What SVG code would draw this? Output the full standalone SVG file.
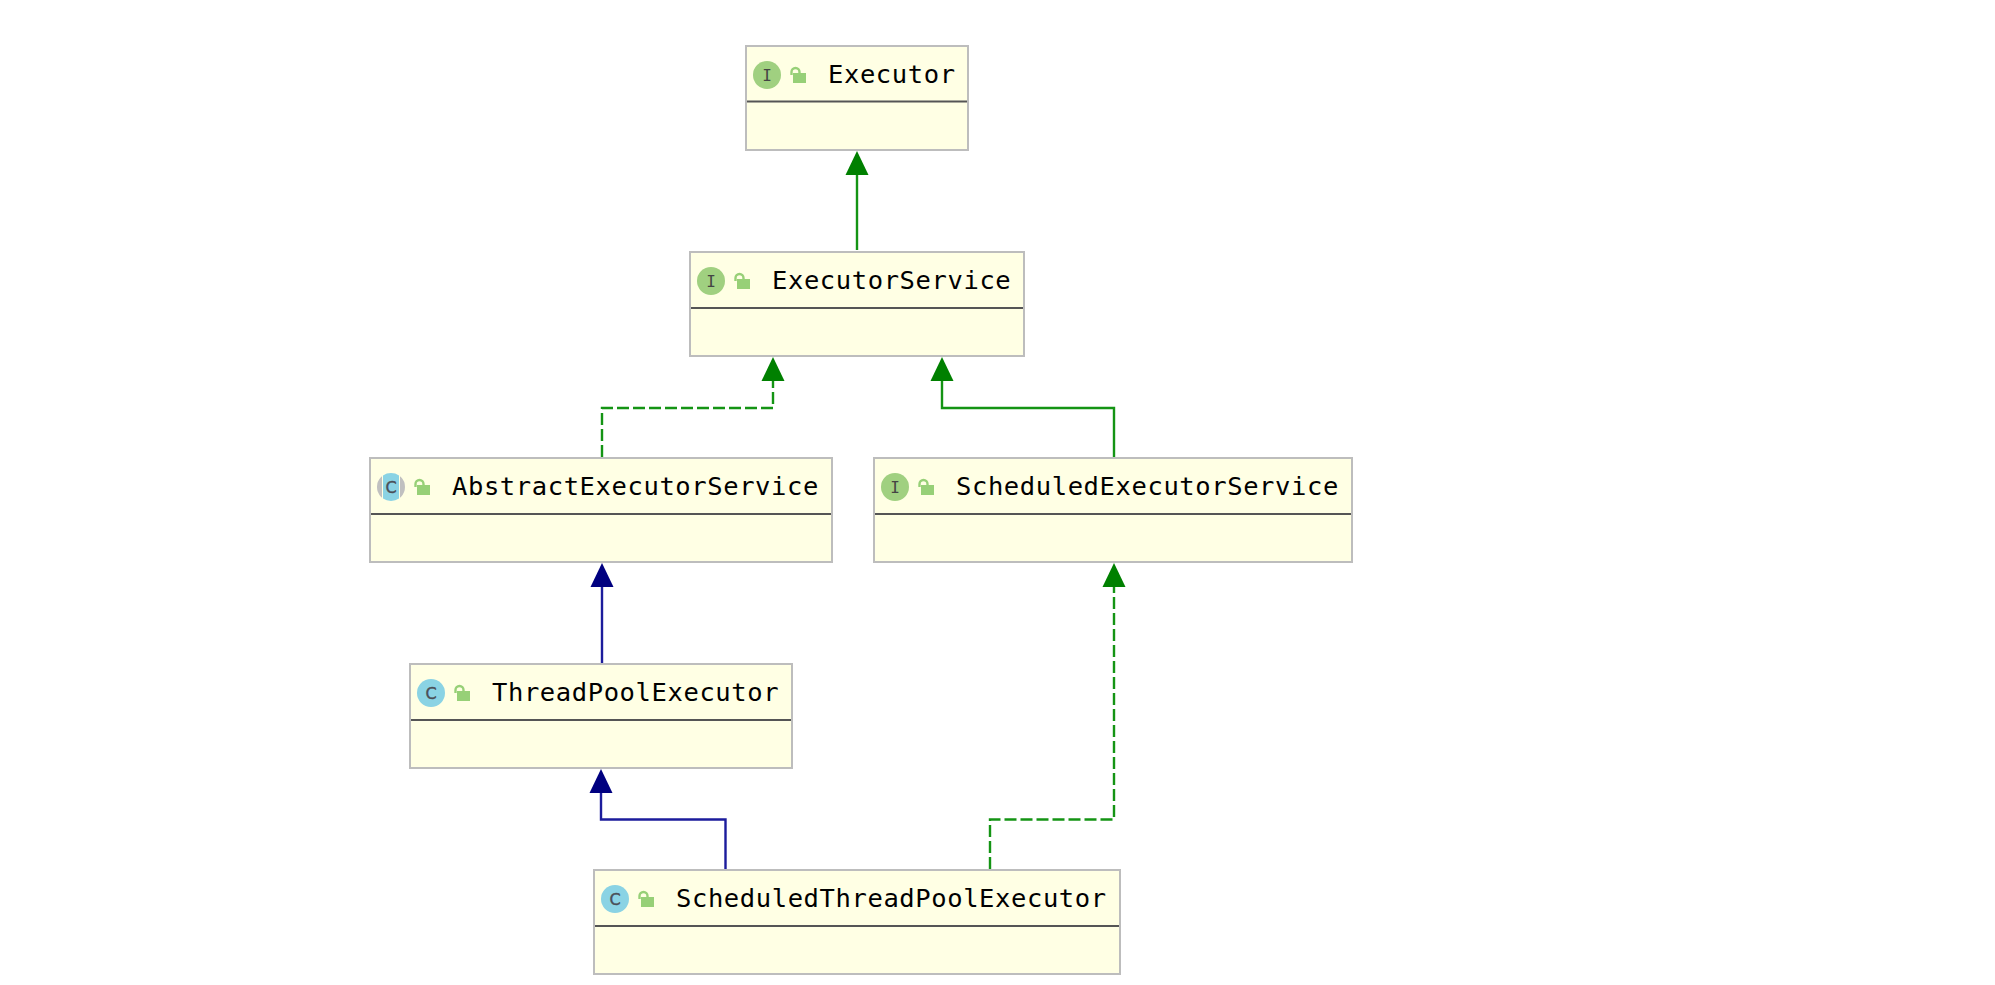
<svg xmlns="http://www.w3.org/2000/svg" width="1995" height="985" viewBox="0 0 1995 985">
<style>
.box{fill:#ffffe4;stroke:#bdbdbd;stroke-width:2}
.sep{stroke:#555;stroke-width:2}
.t{font-family:"DejaVu Sans Mono","Liberation Mono",monospace;font-size:25.5px;letter-spacing:.6px;fill:#000}
.ci{fill:#a0d080}
.cc{fill:#8ad3e4}
.g{font-family:"DejaVu Sans Mono",monospace;font-size:16px;fill:#444;text-anchor:middle}
.gc{font-family:"DejaVu Sans",sans-serif;font-size:16px;fill:#4a4f57;stroke:#4a4f57;stroke-width:.4;text-anchor:middle}
.lb{fill:#97d077}
.ls{fill:none;stroke:#97d077;stroke-width:2.400}
.cg{fill:none;stroke:#149414;stroke-width:2.400}
.cb{fill:none;stroke:#1c1c9c;stroke-width:2.400}
.d{stroke-dasharray:12 4}
</style>
<defs>
<g id="lock"><rect class="lb" x="3" y="-2" width="13" height="10"/><path class="ls" d="M1.500 0V-3a4 4 0 0 1 8 0V-1"/></g>
<clipPath id="mid"><rect x="383" y="470" width="16" height="34"/></clipPath>
</defs>
<rect width="1995" height="985" fill="#fff"/>
<g id="connectors">
<path class="cg" d="M857 250V175"/>
<path d="M857 151L868.500 175H845.500Z" fill="#008000"/>
<path class="cg d" d="M602 457V408H773V380"/>
<path d="M773 357L784.500 381H761.500Z" fill="#008000"/>
<path class="cg" d="M1114 457V408H942V380"/>
<path d="M942 357L953.500 381H930.500Z" fill="#008000"/>
<path class="cb" d="M602 663V587"/>
<path d="M602 563L613.500 587H590.500Z" fill="#000080"/>
<path class="cb" d="M725.500 869V819.500H601V792"/>
<path d="M601 769L612.500 793H589.500Z" fill="#000080"/>
<path class="cg d" d="M990 869V819.500H1114V587"/>
<path d="M1114 563L1125.500 587H1102.500Z" fill="#008000"/>
</g>
<g id="executor">
<rect class="box" x="746" y="46" width="222" height="104"/>
<line class="sep" x1="747" y1="101.500" x2="967" y2="101.500"/>
<circle class="ci" cx="767" cy="75" r="14"/><text class="g" x="767" y="81">I</text>
<use href="#lock" x="790" y="75"/>
<text class="t" x="828" y="83">Executor</text>
</g>
<g id="executorservice">
<rect class="box" x="690" y="252" width="334" height="104"/>
<line class="sep" x1="691" y1="308" x2="1023" y2="308"/>
<circle class="ci" cx="711" cy="281" r="14"/><text class="g" x="711" y="287">I</text>
<use href="#lock" x="734" y="281"/>
<text class="t" x="772" y="289">ExecutorService</text>
</g>
<g id="abstractexecutorservice">
<rect class="box" x="370" y="458" width="462" height="104"/>
<line class="sep" x1="371" y1="514" x2="831" y2="514"/>
<circle cx="391" cy="487" r="14" fill="#c0c0c0"/>
<rect x="382" y="472" width="18" height="30" fill="#ffffe4"/>
<circle class="cc" cx="391" cy="487" r="14" clip-path="url(#mid)"/>
<text class="gc" x="391" y="493">C</text>
<use href="#lock" x="414" y="487"/>
<text class="t" x="452" y="495">AbstractExecutorService</text>
</g>
<g id="scheduledexecutorservice">
<rect class="box" x="874" y="458" width="478" height="104"/>
<line class="sep" x1="875" y1="514" x2="1351" y2="514"/>
<circle class="ci" cx="895" cy="487" r="14"/><text class="g" x="895" y="493">I</text>
<use href="#lock" x="918" y="487"/>
<text class="t" x="956" y="495">ScheduledExecutorService</text>
</g>
<g id="threadpoolexecutor">
<rect class="box" x="410" y="664" width="382" height="104"/>
<line class="sep" x1="411" y1="720" x2="791" y2="720"/>
<circle class="cc" cx="431" cy="693" r="14"/><text class="gc" x="431" y="699">C</text>
<use href="#lock" x="454" y="693"/>
<text class="t" x="492" y="701">ThreadPoolExecutor</text>
</g>
<g id="scheduledthreadpoolexecutor">
<rect class="box" x="594" y="870" width="526" height="104"/>
<line class="sep" x1="595" y1="926" x2="1119" y2="926"/>
<circle class="cc" cx="615" cy="899" r="14"/><text class="gc" x="615" y="905">C</text>
<use href="#lock" x="638" y="899"/>
<text class="t" x="676" y="907">ScheduledThreadPoolExecutor</text>
</g>
</svg>
